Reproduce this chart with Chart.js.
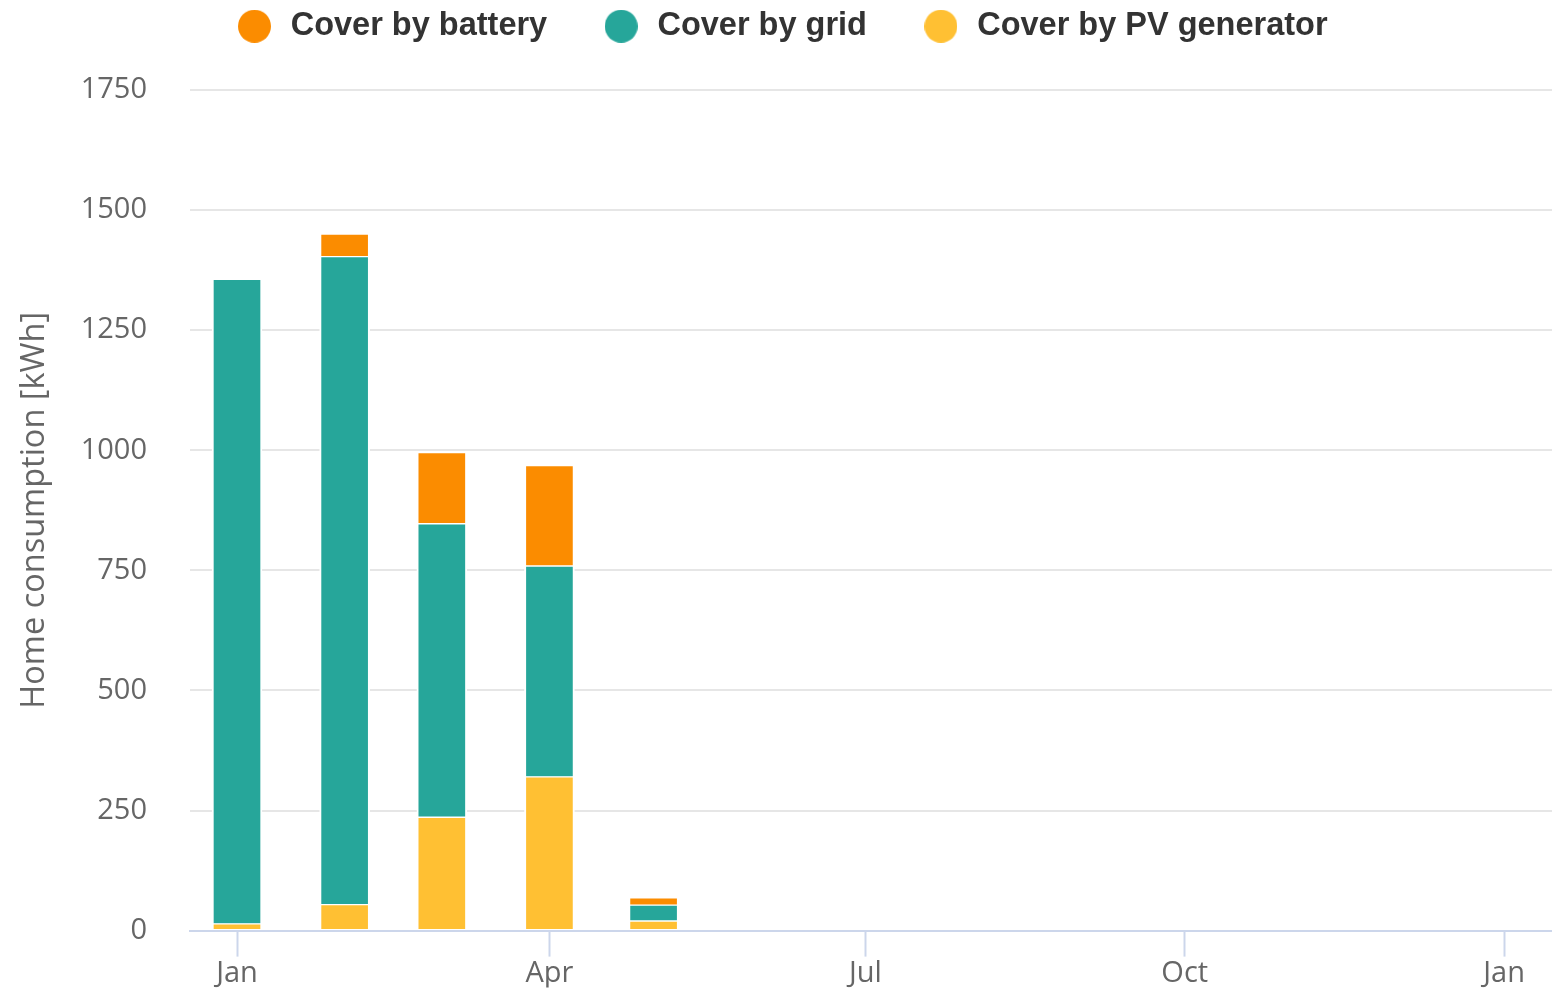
<!DOCTYPE html>
<html>
<head>
<meta charset="utf-8">
<title>Home consumption</title>
<script src="https://cdn.jsdelivr.net/npm/chart.js@4/dist/chart.umd.min.js"></script>
<style>
  html, body { margin: 0; padding: 0; background: #fff; }
  canvas { display: block; }
</style>
</head>
<body>
<canvas id="chart" width="1552" height="991"></canvas>
<script>
// bars sit on the first day of each month (day of year)
const monthDays = [0, 31, 59, 90, 120];
const pvCover = [14, 54, 236, 320, 20];
const gridCover = [1342, 1349, 611, 439, 33];
const batteryCover = [0, 47, 148, 209, 15];

const xTickDays = [0, 90, 181, 273, 365];
const xTickLabels = ['Jan', 'Apr', 'Jul', 'Oct', 'Jan'];
const yTickValues = [0, 250, 500, 750, 1000, 1250, 1500, 1750];

const tickFont = { family: "'Open Sans', sans-serif", size: 29 };

function toPoints(vals) {
  return vals.map((v, i) => ({ x: monthDays[i], y: v }));
}

// round legend marker, drawn once per colour
function makeDot(color) {
  const c = document.createElement('canvas');
  c.width = 33;
  c.height = 33;
  const g = c.getContext('2d');
  g.fillStyle = color;
  g.beginPath();
  g.arc(16.5, 16.5, 16.5, 0, Math.PI * 2);
  g.fill();
  return c;
}

function barSet(label, vals, color) {
  return {
    label: label,
    data: toPoints(vals),
    backgroundColor: color,
    borderColor: '#ffffff',
    borderWidth: { top: 1, bottom: 1, left: 2, right: 2 },
    borderSkipped: false,
    barThickness: 50,
    pointStyle: makeDot(color)
  };
}

// legend needs wide item spacing but sits high, so give it extra height below
const legendSpacer = {
  id: 'legendSpacer',
  beforeInit(chart) {
    const fit = chart.legend.fit;
    chart.legend.fit = function () {
      fit.call(this);
      this.height += 37.5;
    };
  }
};

new Chart(document.getElementById('chart'), {
  type: 'bar',
  data: {
    datasets: [
      barSet('Cover by PV generator', pvCover, '#ffc033'),
      barSet('Cover by grid', gridCover, '#26a69a'),
      barSet('Cover by battery', batteryCover, '#fb8c00')
    ]
  },
  plugins: [legendSpacer],
  options: {
    responsive: false,
    devicePixelRatio: 1,
    animation: false,
    layout: { padding: { top: -44, left: 10, right: 0, bottom: 0 } },
    plugins: {
      tooltip: { enabled: false },
      legend: {
        position: 'top',
        reverse: true,
        labels: {
          usePointStyle: true,
          pointStyleWidth: 40,
          padding: 54,
          color: '#333333',
          font: { family: "'Liberation Sans', Arial, sans-serif", size: 32.5, weight: 'bold' }
        }
      }
    },
    scales: {
      x: {
        type: 'linear',
        stacked: true,
        offset: false,
        min: -13.54,
        max: 378.8,
        afterBuildTicks: s => { s.ticks = xTickDays.map(v => ({ value: v })); },
        afterFit: s => { s.height = 57; },
        ticks: {
          autoSkip: false,
          maxRotation: 0,
          padding: 3,
          color: '#666666',
          font: Object.assign({ lineHeight: 1 }, tickFont),
          callback: v => xTickLabels[xTickDays.indexOf(v)]
        },
        grid: {
          offset: false,
          drawOnChartArea: false,
          drawTicks: true,
          tickLength: 26,
          tickWidth: 2,
          tickColor: '#ccd6eb'
        },
        border: { color: '#ccd6eb', width: 2, z: 1 }
      },
      y: {
        stacked: true,
        min: 0,
        max: 1750,
        afterBuildTicks: s => { s.ticks = yTickValues.map(v => ({ value: v })); },
        afterFit: s => { s.width = 180; },
        ticks: {
          padding: 43,
          color: '#666666',
          font: tickFont,
          callback: v => String(v)
        },
        grid: { color: '#e6e6e6', lineWidth: 2, drawTicks: false },
        border: { display: false },
        title: {
          display: true,
          text: 'Home consumption [kWh]',
          color: '#666666',
          font: { family: "'Open Sans', sans-serif", size: 32.5 },
          padding: { top: 5, bottom: 0 }
        }
      }
    }
  }
});
</script>
</body>
</html>
